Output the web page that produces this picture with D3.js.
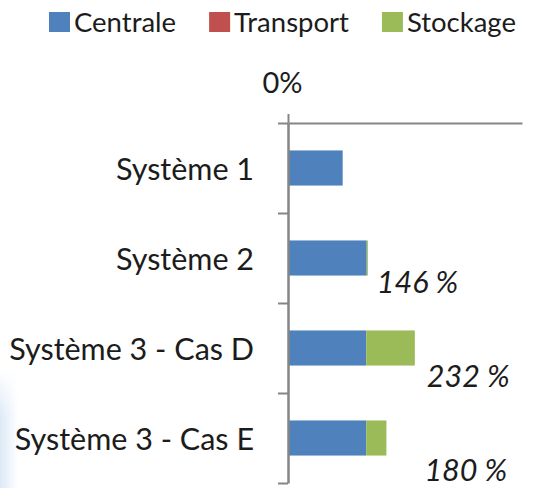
<!DOCTYPE html>
<html>
<head>
<meta charset="utf-8">
<script src="https://cdn.jsdelivr.net/npm/d3@7"></script>
<style>
  html, body { margin: 0; padding: 0; background: #fff; }
  svg { display: block; font-family: Lato, "Open Sans", sans-serif; }
</style>
</head>
<body>
<svg id="chart"></svg>
<script>
// Chart data (values in %)
const categories = ["Système 1", "Système 2", "Système 3 - Cas D", "Système 3 - Cas E"];
const seriesNames = ["Centrale", "Transport", "Stockage"];
const centrale = [100, 144, 143, 143];
const transport = [0, 0, 0, 0];
const stockage = [0, 2, 89, 37];
const totalLabels = [null, "146 %", "232 %", "180 %"];
const axisTicks = [0];

const colors = ["#4f81bd", "#c0504d", "#9bbb59"];
const textColor = "#1c1c1c";
const axisColor = "#858585";

const width = 536;
const height = 488;

const svg = d3.select("#chart")
  .attr("width", width)
  .attr("height", height);

// faint slide background at the lower left edge
const defs = svg.append("defs");
const grad = defs.append("linearGradient")
  .attr("id", "bg").attr("x1", 0).attr("x2", 1);
grad.append("stop").attr("offset", 0).attr("stop-color", "#dce9f6");
grad.append("stop").attr("offset", 1).attr("stop-color", "#ffffff");
const fade = defs.append("linearGradient")
  .attr("id", "fade").attr("x1", 0).attr("x2", 0).attr("y1", 0).attr("y2", 1);
fade.append("stop").attr("offset", 0).attr("stop-color", "#fff").attr("stop-opacity", 1);
fade.append("stop").attr("offset", 0.4).attr("stop-color", "#fff").attr("stop-opacity", 0);
svg.append("rect")
  .attr("x", 0).attr("y", 370).attr("width", 18).attr("height", 118)
  .attr("fill", "url(#bg)");
svg.append("rect")
  .attr("x", 0).attr("y", 370).attr("width", 18).attr("height", 118)
  .attr("fill", "url(#fade)");

// Build stacked rows
const rows = categories.map((c, i) => ({
  cat: c, Centrale: centrale[i], Transport: transport[i], Stockage: stockage[i]
}));
const stacked = d3.stack().keys(seriesNames)(rows);

// Scales
const x = d3.scaleLinear().domain([0, 428]).range([288, 522]);
const y = d3.scaleBand().domain(categories).range([123, 483]).paddingInner(0.61).paddingOuter(0.305);
const yIdx = d3.scaleLinear().domain([0, categories.length]).range([123, 483]);

// Bars
svg.append("g")
  .selectAll("g")
  .data(stacked)
  .join("g")
  .attr("fill", (d, i) => colors[i])
  .selectAll("rect")
  .data(d => d)
  .join("rect")
  .attr("x", d => x(d[0]))
  .attr("y", d => y(d.data.cat))
  .attr("width", d => Math.max(0, x(d[1]) - x(d[0])))
  .attr("height", y.bandwidth());

// Top value axis
const xAxis = svg.append("g")
  .attr("transform", `translate(0,${yIdx(0)})`)
  .call(d3.axisTop(x).tickValues(axisTicks).tickSize(9).tickPadding(21).tickFormat(d => d + "%").tickSizeOuter(0));
xAxis.select(".domain").attr("stroke", axisColor).attr("stroke-width", 2);
xAxis.selectAll(".tick line").attr("stroke", axisColor).attr("stroke-width", 2);
xAxis.selectAll(".tick text")
  .attr("fill", textColor)
  .attr("font-size", 29)
  .attr("dx", -6)
  .attr("font-family", "Lato, sans-serif");

// Category axis (ticks between categories)
const yAxis = svg.append("g")
  .attr("transform", `translate(${x(0)},0)`)
  .call(d3.axisLeft(yIdx).ticks(categories.length).tickSize(10).tickFormat("").tickSizeOuter(0));
yAxis.select(".domain").attr("stroke", axisColor).attr("stroke-width", 2.5);
yAxis.selectAll(".tick line").attr("stroke", axisColor).attr("stroke-width", 2);

// Category labels
svg.append("g")
  .selectAll("text")
  .data(categories)
  .join("text")
  .attr("x", 254)
  .attr("y", d => y(d) + y.bandwidth() / 2 + 12)
  .attr("text-anchor", "end")
  .attr("font-size", 30.5)
  .attr("fill", textColor)
  .text(d => d);

// Total labels (placed like text boxes next to the bars)
const labelNudge = [[0, 0], [0, 0], [3, 4], [29, 8]];
svg.append("g")
  .selectAll("text")
  .data(categories.map((c, i) => ({ c, i, total: centrale[i] + transport[i] + stockage[i] })).filter(d => totalLabels[d.i]))
  .join("text")
  .attr("x", d => x(d.total) + 9 + labelNudge[d.i][0])
  .attr("y", d => y(d.c) + y.bandwidth() / 2 + 35 + labelNudge[d.i][1])
  .attr("font-size", 30.5)
  .attr("font-style", "italic")
  .attr("fill", textColor)
  .text(d => totalLabels[d.i]);

// Legend
const legend = svg.append("g");
let lx = 49;
seriesNames.forEach((name, i) => {
  const g = legend.append("g").attr("transform", `translate(${lx},0)`);
  g.append("rect").attr("x", 0).attr("y", 12).attr("width", 21).attr("height", 20).attr("fill", colors[i]);
  const t = g.append("text")
    .attr("x", 25).attr("y", 32)
    .attr("font-size", 27.5)
    .attr("fill", textColor)
    .text(name);
  lx += 25 + t.node().getComputedTextLength() + 33;
});
</script>
</body>
</html>
